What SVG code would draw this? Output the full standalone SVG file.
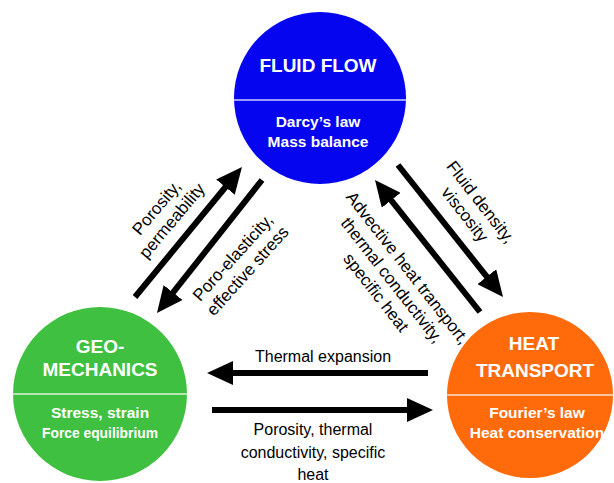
<svg xmlns="http://www.w3.org/2000/svg" width="614" height="483" viewBox="0 0 614 483">
<style>
.title{font-family:"Liberation Sans",Arial,sans-serif;font-weight:bold;font-size:19px;fill:#fff;text-anchor:middle}
.sub{font-family:"Liberation Sans",Arial,sans-serif;font-weight:bold;font-size:15.5px;fill:#fff;text-anchor:middle}
.lbl{font-family:"Liberation Sans",Arial,sans-serif;font-size:17px;fill:#000;text-anchor:middle}
.hl{font-family:"Liberation Sans",Arial,sans-serif;font-size:16px;fill:#000;text-anchor:middle}
.div{stroke:#fff;stroke-opacity:0.8;stroke-width:1.5}
.arr{stroke:#000;stroke-width:6;fill:none;marker-end:url(#ah)}
</style>
<defs>
<marker id="ah" markerUnits="userSpaceOnUse" markerWidth="26" markerHeight="24" refX="4" refY="12" orient="auto" viewBox="0 0 26 24">
<path d="M0,0 L26,12 L0,24 z" fill="#000"/>
</marker>
</defs>
<rect width="614" height="483" fill="#fff"/>
<g id="fluid-flow">
<circle cx="320" cy="98" r="86" fill="#0505F0"/>
<line class="div" x1="234" y1="100" x2="406" y2="100"/>
<text class="title" x="318" y="72">FLUID FLOW</text>
<text class="sub" x="318" y="127">Darcy’s law</text>
<text class="sub" x="318" y="147">Mass balance</text>
</g>
<g id="geo-mechanics">
<circle cx="100" cy="394" r="87" fill="#40C040"/>
<line class="div" x1="13" y1="394" x2="187" y2="394"/>
<text class="title" x="100" y="353">GEO-</text>
<text class="title" x="100" y="376">MECHANICS</text>
<text class="sub" x="100" y="418">Stress, strain</text>
<text class="sub" x="100" y="438" textLength="116" lengthAdjust="spacingAndGlyphs">Force equilibrium</text>
</g>
<g id="heat-transport">
<circle cx="530" cy="395" r="83" fill="#FF6A0A"/>
<line class="div" x1="447" y1="395" x2="613" y2="395"/>
<text class="title" x="534" y="350">HEAT</text>
<text class="title" x="535" y="377">TRANSPORT</text>
<text class="sub" x="537" y="418">Fourier’s law</text>
<text class="sub" x="537" y="438">Heat conservation</text>
</g>
<g id="connectors">
<line class="arr" x1="135" y1="297" x2="228" y2="184"/>
<line class="arr" x1="262" y1="180" x2="170.6" y2="295.7"/>
<line class="arr" x1="398" y1="165" x2="489.3" y2="279.8"/>
<line class="arr" x1="480" y1="312" x2="388.7" y2="197.2"/>
<line class="arr" x1="428" y1="373" x2="229" y2="373"/>
<line class="arr" x1="212" y1="410" x2="411" y2="410"/>
</g>
<g id="labels">
<g transform="translate(164,214) rotate(-50)">
<text class="lbl" x="0" y="-4">Porosity,</text>
<text class="lbl" x="0" y="16">permeability</text>
</g>
<g transform="translate(240,264) rotate(-48)">
<text class="lbl" x="0" y="-4">Poro-elasticity,</text>
<text class="lbl" x="0" y="16">effective stress</text>
</g>
<g transform="translate(473,208) rotate(52)">
<text class="lbl" x="0" y="-4">Fluid density,</text>
<text class="lbl" x="0" y="16">viscosity</text>
</g>
<g transform="translate(392,280) rotate(52)">
<text class="lbl" x="0" y="-14">Advective heat transport,</text>
<text class="lbl" x="0" y="6">thermal conductivity,</text>
<text class="lbl" x="0" y="26">specific heat</text>
</g>
<text class="hl" x="323" y="362">Thermal expansion</text>
<text class="hl" x="313" y="435">Porosity, thermal</text>
<text class="hl" x="313" y="458">conductivity, specific</text>
<text class="hl" x="313" y="480">heat</text>
</g>
</svg>
